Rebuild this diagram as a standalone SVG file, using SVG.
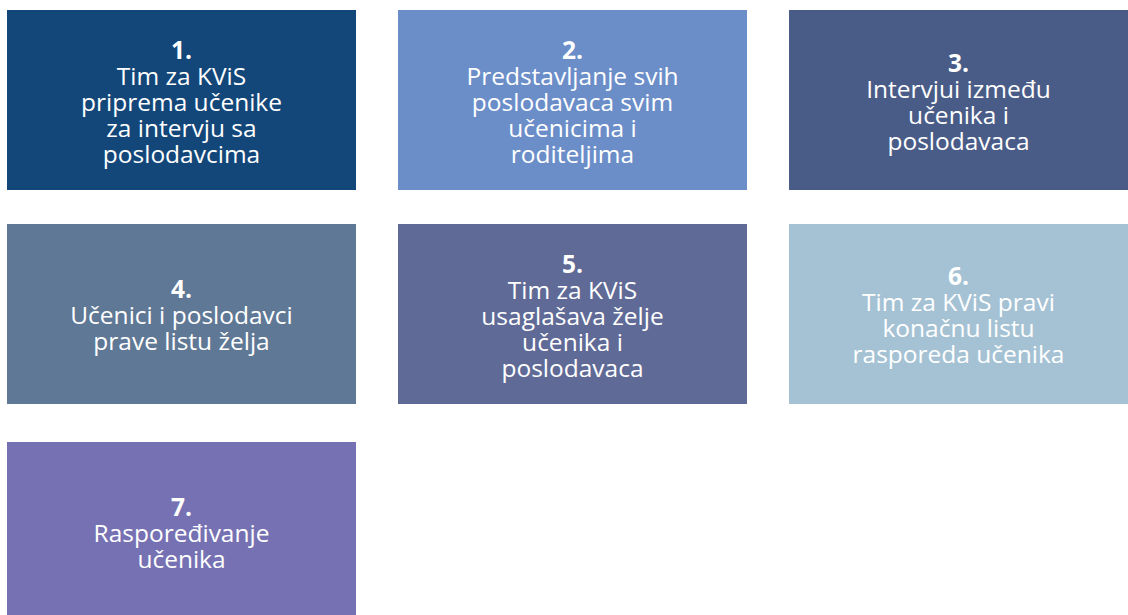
<svg xmlns="http://www.w3.org/2000/svg" width="1128" height="615" viewBox="0 0 1128 615">
<style>
text{font-family:"Open Sans","Noto Sans","DejaVu Sans",sans-serif;font-size:24.5px;fill:#ffffff;text-anchor:middle}
.n{font-weight:bold}
</style>
<rect width="1128" height="615" fill="#ffffff"/>
<g id="node1">
<rect x="7" y="10" width="349" height="180" fill="#134679"/>
<text x="181.5" y="59" class="n">1.</text>
<text x="181.5" y="85">Tim za KViS</text>
<text x="181.5" y="111">priprema učenike</text>
<text x="181.5" y="137">za intervju sa</text>
<text x="181.5" y="163">poslodavcima</text>
</g>
<g id="node2">
<rect x="398" y="10" width="349" height="180" fill="#6b8ec9"/>
<text x="572.5" y="59" class="n">2.</text>
<text x="572.5" y="85">Predstavljanje svih</text>
<text x="572.5" y="111">poslodavaca svim</text>
<text x="572.5" y="137">učenicima i</text>
<text x="572.5" y="163">roditeljima</text>
</g>
<g id="node3">
<rect x="789" y="10" width="339" height="180" fill="#495c87"/>
<text x="958.5" y="72" class="n">3.</text>
<text x="958.5" y="98">Intervjui između</text>
<text x="958.5" y="124">učenika i</text>
<text x="958.5" y="150">poslodavaca</text>
</g>
<g id="node4">
<rect x="7" y="224" width="349" height="180" fill="#5f7895"/>
<text x="181.5" y="298" class="n">4.</text>
<text x="181.5" y="324">Učenici i poslodavci</text>
<text x="181.5" y="350">prave listu želja</text>
</g>
<g id="node5">
<rect x="398" y="224" width="349" height="180" fill="#5f6a96"/>
<text x="572.5" y="273" class="n">5.</text>
<text x="572.5" y="299">Tim za KViS</text>
<text x="572.5" y="325">usaglašava želje</text>
<text x="572.5" y="351">učenika i</text>
<text x="572.5" y="377">poslodavaca</text>
</g>
<g id="node6">
<rect x="789" y="224" width="339" height="180" fill="#a5c2d4"/>
<text x="958.5" y="285" class="n">6.</text>
<text x="958.5" y="311">Tim za KViS pravi</text>
<text x="958.5" y="337">konačnu listu</text>
<text x="958.5" y="363">rasporeda učenika</text>
</g>
<g id="node7">
<rect x="7" y="442" width="349" height="173" fill="#7671b3"/>
<text x="181.5" y="516" class="n">7.</text>
<text x="181.5" y="542">Raspoređivanje</text>
<text x="181.5" y="568">učenika</text>
</g>
<g id="connectors"></g>
</svg>
